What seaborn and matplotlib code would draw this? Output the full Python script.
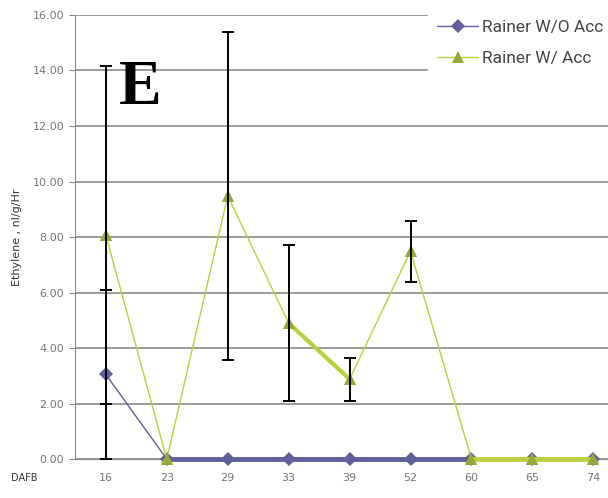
import numpy as np
import pandas as pd
import matplotlib
matplotlib.use('Agg')
import matplotlib.pyplot as plt
import seaborn as sns

dafb = ['16', '23', '29', '33', '39', '52', '60', '65', '74']
wo_acc = [3.05, 0, 0, 0, 0, 0, 0, 0, 0]
wo_err = [3.05, 0, 0, 0, 0, 0, 0, 0, 0]
w_acc = [8.07, 0, 9.48, 4.90, 2.88, 7.49, 0, 0, 0]
w_err = [6.10, 0, 5.90, 2.80, 0.77, 1.10, 0, 0, 0]

pos = np.arange(len(dafb))
df = pd.DataFrame({'pos': np.concatenate([pos, pos]),
                   'val': wo_acc + w_acc,
                   'series': ['Rainer W/O Acc'] * len(dafb) + ['Rainer W/ Acc'] * len(dafb)})

sns.set_style('white')
fig = plt.figure(figsize=(6.08, 4.98), dpi=100)
ax = fig.add_axes([0.123, 0.078, 0.877, 0.892])

purple = '#5f5f9c'
green_line = '#bccf3e'
green_mark = '#97a83a'

# thin lines, then heavier segments as in the original
sns.lineplot(data=df[df.series == 'Rainer W/O Acc'], x='pos', y='val', color=purple,
             lw=1.0, marker='D', markersize=7, markeredgewidth=0, ax=ax,
             label='Rainer W/O Acc', clip_on=False, zorder=3)
sns.lineplot(x=pos[1:7], y=wo_acc[1:7], color=purple, lw=3.5, ax=ax, clip_on=False, zorder=3)
sns.lineplot(data=df[df.series == 'Rainer W/ Acc'], x='pos', y='val', color=green_line,
             lw=1.0, marker='^', markersize=9, markerfacecolor=green_mark,
             markeredgewidth=0, ax=ax, label='Rainer W/ Acc', clip_on=False, zorder=4)
sns.lineplot(x=pos[3:5], y=w_acc[3:5], color=green_line, lw=3, ax=ax, zorder=4)
sns.lineplot(x=pos[6:], y=w_acc[6:], color=green_line, lw=3.5, ax=ax, clip_on=False, zorder=4)
ax.plot(pos, w_acc, ls='none', marker='^', markersize=9, color=green_mark, mew=0,
        clip_on=False, zorder=4)

for vals, errs in [(wo_acc, wo_err), (w_acc, w_err)]:
    m = np.array(errs) > 0
    ax.errorbar(pos[m], np.array(vals)[m], yerr=np.array(errs)[m], fmt='none',
                ecolor='black', elinewidth=1.4, capsize=4, capthick=1.4, zorder=5)

ax.set_xlim(-0.51, 8.24)
ax.set_ylim(0, 16)
ax.set_yticks(np.arange(0, 17, 2))
ax.set_yticklabels(['%.2f' % v for v in np.arange(0, 17, 2)], color='#777777', fontsize=8)
ax.set_xticks(pos)
ax.set_xticklabels(dafb, color='#777777', fontsize=8)
ax.set_xticks(pos[:-1] + 0.5, minor=True)
ax.tick_params(axis='x', which='major', length=0, pad=10)
ax.tick_params(axis='x', which='minor', length=3, direction='inout', color='#888888')
ax.tick_params(axis='y', length=4, color='#888888', left=True)
ax.yaxis.grid(True, color='#8a8a8a', lw=1.2)
ax.set_axisbelow(True)
for s in ['top', 'right']:
    ax.spines[s].set_visible(False)
ax.spines['left'].set_color('#888888')
ax.spines['bottom'].set_color('#888888')
ax.set_xlabel('')
ax.set_ylabel('Ethylene , nl/g/Hr', fontsize=8, color='#333333', labelpad=8)

fig.text(0.04, 0.035, 'DAFB', fontsize=7, color='#333333', ha='center')
ax.text(0.083, 0.8, 'E', transform=ax.transAxes, fontsize=46, fontweight='bold',
        family='Liberation Serif', color='black')

leg = ax.legend(loc='upper left', bbox_to_anchor=(428 / 608, 1 - 11 / 498),
                bbox_transform=fig.transFigure, frameon=True,
                prop={'family': 'Roboto', 'size': 12.5}, handlelength=2.4,
                handletextpad=0.2, labelspacing=0.95, borderpad=0.5, borderaxespad=0)
leg.get_frame().set_edgecolor('white')
leg.get_frame().set_facecolor('white')
leg.get_frame().set_alpha(1)
leg.set_zorder(10)
for t in leg.get_texts():
    t.set_color('#444444')

fig.savefig('out.png', dpi=100)
